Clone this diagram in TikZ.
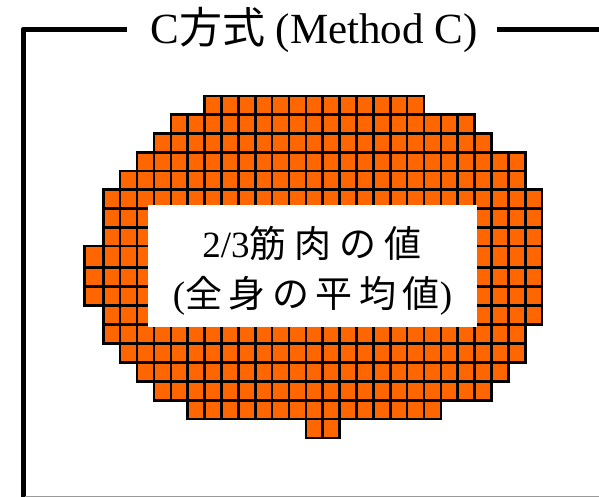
\documentclass[tikz,border=0pt]{standalone}
\usepackage{fontspec}
\setmainfont{Liberation Serif}
\newfontfamily\cjk{Noto Sans CJK JP}
\definecolor{cellorange}{HTML}{FF6600}
\tikzset{
  cellfill/.style={fill=cellorange},
  cellline/.style={draw=black, line width=2.6pt},
  frameline/.style={draw=black, line width=5pt, line cap=butt, line join=round},
  labeltext/.style={anchor=base, inner sep=0pt},
}
% cells of the blob: row / first column / column after the last
\def\bloblist{0/7/20,1/5/23,2/4/24,3/3/26,4/2/26,5/1/27,6/1/27,7/1/27,8/0/27,9/0/27,10/0/27,11/1/27,12/1/26,13/2/26,14/3/25,15/4/24,16/6/21,17/13/15}
\newcommand\blobcells[1]{%
  \foreach \r/\a/\b in \bloblist {
    \pgfmathsetmacro\ytop{(\r<9) ? (96+\r*18.75) : (267.7+(\r-9)*18.93)}
    \pgfmathsetmacro\ybot{(\r<8) ? (96+(\r+1)*18.75) : (267.7+(\r-8)*18.93)}
    \pgfmathtruncatemacro\last{\b-1}
    \foreach \c in {\a,...,\last}{
      \pgfmathsetmacro\xl{(\c==0) ? 84.5 : (103.3+(\c-1)*16.88)}
      \pgfmathsetmacro\xr{103.3+\c*16.88}
      \path[#1] (\xl,\ytop) rectangle (\xr,\ybot);
    }
  }%
}
\newcommand\gapa{\hspace{8pt}}
\newcommand\gapb{\hspace{6.5pt}}
\begin{document}
\begin{tikzpicture}[x=1pt,y=-1pt]
\useasboundingbox (0,0) rectangle (599,497);

% frame with the title set into its top edge
\coordinate (frameBL) at (23.2,497);
\coordinate (frameTL) at (23.2,29.2);
\coordinate (leftEnd) at (126.7,29.2);
\coordinate (rightStart) at (497,29.2);
\coordinate (frameTR) at (599,29.2);
\coordinate (bottomL) at (25,496);
\coordinate (bottomR) at (599,496);
\draw[frameline] (frameBL) -- (frameTL) -- (leftEnd);
\draw[frameline] (rightStart) -- (frameTR);
\draw[black!40, line width=1pt] (bottomL) -- (bottomR);
\node[labeltext] (title) at (314,43.3)
  {\fontsize{43}{43}\selectfont C{\cjk 方式} (Method C)};

% orange grid: fills first, then the cell outlines
\blobcells{cellfill}
\blobcells{cellline}

% white label panel
\node[fill=white, inner sep=0pt, minimum width=328.4pt, minimum height=122.3pt]
  (panel) at (312.5,266.15) {};
\node[labeltext] (lineone) at (312,257)
  {\fontsize{37}{37}\selectfont 2/3{\cjk 筋}\gapa{\cjk 肉}\gapa{\cjk の}\gapa{\cjk 値}};
\node[labeltext] (linetwo) at (312.5,307)
  {\fontsize{37}{37}\selectfont ({\cjk 全}\gapb{\cjk 身}\gapb{\cjk の}\gapb{\cjk 平}\gapb{\cjk 均}\gapb{\cjk 値})};
\end{tikzpicture}
\end{document}
